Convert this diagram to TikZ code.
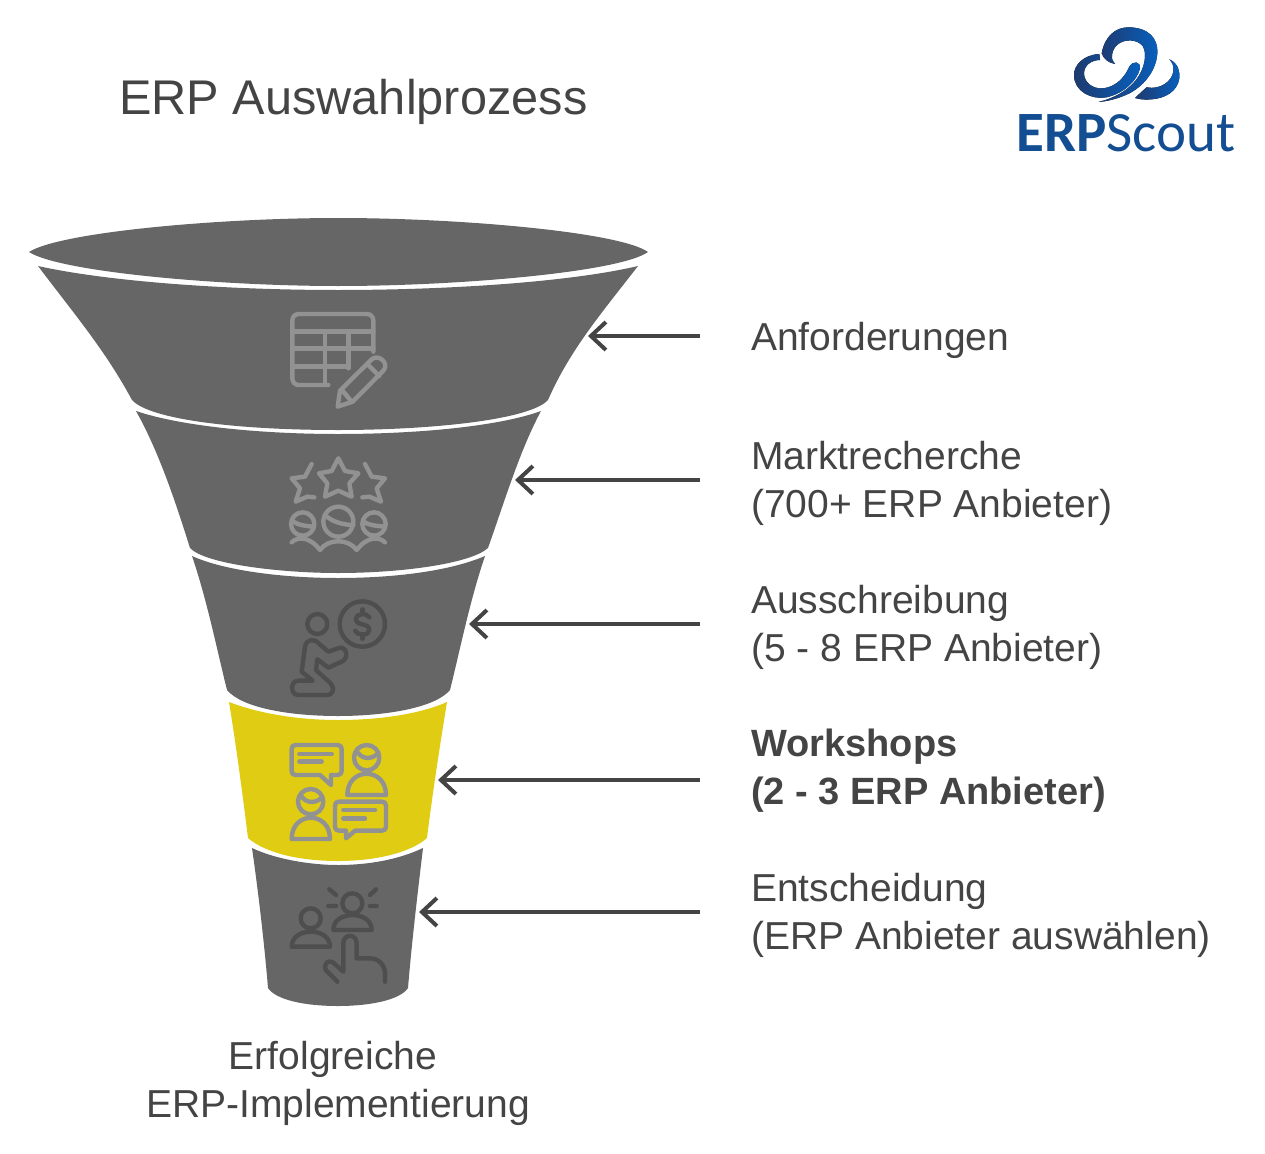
\documentclass[tikz,border=0pt]{standalone}
\usepackage{fontspec}
\setmainfont{Liberation Sans}
\newfontfamily\logofont{Carlito}
\usetikzlibrary{arrows.meta}
\definecolor{funnelgray}{RGB}{102,102,102}
\definecolor{funnelyellow}{RGB}{224,204,18}
\definecolor{textgray}{RGB}{68,68,68}
\definecolor{iconlight}{RGB}{146,146,146}
\definecolor{icondark}{RGB}{78,78,78}
\definecolor{logodark}{RGB}{30,58,110}
\definecolor{logoblue}{RGB}{8,96,190}
\definecolor{logotext}{RGB}{20,78,146}
\tikzset{
    seg/.style={fill=funnelgray,draw=none},
    lbl/.style={anchor=west,inner sep=0pt,align=left,text=textgray,font=\fontsize{39}{48}\selectfont},
    arrowline/.style={draw=textgray,line width=4pt,shorten <=51pt,-{Straight Barb[length=15pt,width=28pt,line width=4pt]}},
    iconline/.style={line width=4.4pt,line cap=round,line join=round},
    logopart/.style={left color=logodark,right color=logoblue,draw=none}
}

\begin{document}
\begin{tikzpicture}[x=1pt,y=-1pt]
    \useasboundingbox (0,0) rectangle (1265,1153);
    % funnel
    \fill[seg] (29,252) .. controls (60,232) and (220,218) .. (338,218) .. controls (460,218) and (620,232) .. (648,252) .. controls (620,272) and (460,286) .. (338,286) .. controls (220,286) and (60,272) .. cycle;
    \fill[seg] (38,266) .. controls (110,282) and (230,290) .. (338,290) .. controls (450,290) and (570,282) .. (638,266) .. controls (600,315) and (570,350) .. (548,400) .. controls (530,420) and (430,430) .. (338,430) .. controls (240,430) and (150,420) .. (132,400) .. controls (105,350) and (75,315) .. cycle;
    \fill[seg] (136,411) .. controls (180,426) and (260,434) .. (338,434) .. controls (420,434) and (500,426) .. (541,411) .. controls (520,450) and (505,500) .. (488,548) .. controls (470,564) and (400,573) .. (338,573) .. controls (280,573) and (205,564) .. (190,548) .. controls (175,500) and (158,450) .. cycle;
    \fill[seg] (192,556) .. controls (225,571) and (285,578) .. (338,578) .. controls (395,578) and (450,571) .. (485,556) .. controls (470,600) and (460,650) .. (450,690) .. controls (435,708) and (385,716) .. (338,716) .. controls (290,716) and (242,708) .. (227,690) .. controls (217,650) and (207,600) .. cycle;
    \fill[funnelyellow] (229,702) .. controls (260,714) and (300,720) .. (338,720) .. controls (380,720) and (420,714) .. (447,702) .. controls (440,745) and (433,790) .. (427,838) .. controls (410,853) and (375,861) .. (338,861) .. controls (300,861) and (265,853) .. (248,838) .. controls (242,790) and (236,745) .. cycle;
    \fill[seg] (252,848) .. controls (275,859) and (310,865) .. (338,865) .. controls (370,865) and (400,859) .. (423,848) .. controls (418,890) and (412,940) .. (408,988) .. controls (400,1000) and (370,1006) .. (338,1006) .. controls (305,1006) and (276,1000) .. (268,988) .. controls (264,940) and (258,890) .. cycle;
    % icon table
    \begin{scope}[shift={(260,300)},scale=1/3,iconline,draw=iconlight]
        \draw (340,155) -- (340,62) .. controls (340,50) and (332,42) .. (320,42) -- (117,42) .. controls (105,42) and (97,50) .. (97,62) -- (97,235) .. controls (97,247) and (105,255) .. (117,255) -- (205,255);
        \draw (97,95) -- (340,95) (97,145) -- (340,145) (97,200) -- (265,200);
        \draw (195,95) -- (195,255) (265,95) -- (265,205);
        \draw (240,272) -- (335,178) .. controls (355,160) and (390,190) .. (370,212) -- (278,305) -- (233,320) -- cycle;
        \draw (322,192) -- (358,228) (246,270) -- (275,305);
    \end{scope}
    % icon stars
    \begin{scope}[shift={(260,300)},scale=1/3,iconline,draw=iconlight]
        \draw (235,475) -- (255,513) -- (295,520) -- (268,550) -- (275,590) -- (235,572) -- (195,590) -- (202,550) -- (177,520) -- (215,513) -- cycle;
        \draw (155,492) -- (135,530) -- (95,535) -- (120,565) -- (107,605) -- (142,590) -- (163,592);
        \draw (315,492) -- (335,530) -- (375,535) -- (350,565) -- (363,605) -- (328,590) -- (307,592);
        \draw (128,672) circle (35) (235,665) circle (45) (342,672) circle (35);
        \draw (100,665) .. controls (115,675) and (135,678) .. (160,680);
        \draw (195,645) .. controls (215,665) and (250,675) .. (280,675);
        \draw (310,665) .. controls (325,675) and (350,678) .. (375,680);
        \draw (95,727) .. controls (110,712) and (145,705) .. (180,750) .. controls (205,715) and (265,715) .. (290,750) .. controls (325,705) and (360,712) .. (375,727);
    \end{scope}
    % icon coin
    \begin{scope}[shift={(260,590)},scale=1/3,iconline,draw=icondark]
        \draw (307,102) circle (68) (172,102) circle (30);
        \draw (328,82) .. controls (322,68) and (288,68) .. (288,88) .. controls (288,108) and (328,98) .. (328,120) .. controls (328,138) and (292,138) .. (286,122);
        \draw (307,58) -- (307,70) (307,134) -- (307,146);
        \draw (135,170) .. controls (140,145) and (165,145) .. (178,162) -- (205,185) -- (240,173) .. controls (260,170) and (268,205) .. (245,215) -- (205,233) -- (172,208) -- (168,240) -- (212,280) .. controls (225,295) and (220,315) .. (200,315) -- (115,315) .. controls (90,315) and (90,272) .. (115,272) -- (158,272) -- (125,245) -- cycle;
    \end{scope}
    % icon workshops
    \begin{scope}[shift={(260,590)},scale=1/3,iconline,draw=iconlight]
        \draw (107,465) -- (233,465) .. controls (241,465) and (245,469) .. (245,477) -- (245,543) .. controls (245,551) and (241,555) .. (233,555) -- (213,555) -- (213,585) -- (180,555) -- (107,555) .. controls (99,555) and (95,551) .. (95,543) -- (95,477) .. controls (95,469) and (99,465) .. (107,465) -- cycle;
        \draw (118,492) -- (215,492) (118,515) -- (185,515);
        \draw (320,503) circle (38) (152,635) circle (38);
        \draw (290,482) .. controls (300,505) and (330,512) .. (352,492);
        \draw (122,614) .. controls (132,637) and (162,644) .. (184,624);
        \draw (262,615) .. controls (262,530) and (378,530) .. (378,615) -- cycle;
        \draw (95,747) .. controls (95,662) and (210,662) .. (210,747) -- cycle;
        \draw (237,635) -- (366,635) .. controls (374,635) and (378,639) .. (378,647) -- (378,710) .. controls (378,718) and (374,722) .. (366,722) -- (285,722) -- (258,745) -- (258,722) -- (237,722) .. controls (229,722) and (225,718) .. (225,710) -- (225,647) .. controls (225,639) and (229,635) .. (237,635) -- cycle;
        \draw (250,660) -- (345,660) (250,685) -- (315,685);
    \end{scope}
    % icon decision
    \begin{scope}[shift={(260,590)},scale=1/3,iconline,draw=icondark]
        \draw (152,985) circle (30) (277,940) circle (30);
        \draw (95,1070) .. controls (95,1010) and (210,1010) .. (210,1070) -- cycle;
        \draw (220,1020) .. controls (220,960) and (335,960) .. (335,1020) -- cycle;
        \draw (208,898) -- (228,915) (330,915) -- (348,898) (205,948) -- (228,948) (330,948) -- (350,948);
        \draw (232,1175) -- (197,1140) .. controls (190,1120) and (205,1108) .. (220,1118) -- (250,1145) -- (250,1060) .. controls (250,1030) and (290,1030) .. (290,1060) -- (290,1105) -- (330,1105) .. controls (355,1105) and (375,1125) .. (375,1150) -- (375,1175);
    \end{scope}
    % logo
    \begin{scope}[shift={(1000,10)},scale=1/3]
        \fill[logopart] (305,130) .. controls (315,75) and (350,52) .. (385,52) .. controls (445,52) and (475,85) .. (472,130) .. controls (468,190) and (420,240) .. (370,258) .. controls (345,268) and (320,274) .. (295,276) .. controls (340,265) and (380,245) .. (408,210) .. controls (435,175) and (442,130) .. (428,108) .. controls (412,88) and (375,85) .. (352,104) .. controls (334,120) and (330,150) .. (345,162) .. controls (325,158) and (312,148) .. cycle;
        \fill[logopart] (298,132) .. controls (250,135) and (222,165) .. (222,195) .. controls (222,245) and (275,270) .. (320,262) .. controls (370,250) and (410,215) .. (420,175) .. controls (422,155) and (400,150) .. (388,170) .. controls (375,200) and (350,230) .. (310,235) .. controls (275,238) and (252,215) .. (252,190) .. controls (252,168) and (272,150) .. (300,150) -- cycle;
        \fill[logopart] (508,148) .. controls (535,160) and (540,185) .. (538,205) .. controls (532,245) and (495,265) .. (455,268) .. controls (435,270) and (418,268) .. (405,264) .. controls (420,250) and (430,240) .. (440,232) .. controls (480,240) and (515,215) .. (520,185) .. controls (522,170) and (518,158) .. cycle;
    \end{scope}
    \node[anchor=base west,inner sep=0pt,text=logotext,font=\logofont\fontsize{57}{57}\selectfont] (logotxt) at (1016,151) {\textbf{ERP}Scout};
    % texts
    \node[lbl,font=\fontsize{48.7}{58}\selectfont] (title) at (119,102) {ERP Auswahlprozess};
    \node[lbl] (lblanf) at (751,340) {Anforderungen};
    \node[lbl] (lblmarkt) at (751,483) {Marktrecherche\\(700+ ERP Anbieter)};
    \node[lbl] (lblaus) at (751,627) {Ausschreibung\\(5 - 8 ERP Anbieter)};
    \node[lbl,font=\fontsize{38}{48}\selectfont] (lblwork) at (751,771) {\textbf{Workshops}\\\textbf{(2 - 3 ERP Anbieter)}};
    \node[lbl] (lblent) at (751,915) {Entscheidung\\(ERP Anbieter auswählen)};
    \node[lbl,anchor=center,align=center] (lblerfolg) at (338,1083) {Erfolgreiche\kern10pt\\ERP-Implementierung};
    % arrows
    \coordinate (tipanf) at (588,336);
    \coordinate (tipmarkt) at (515,480);
    \coordinate (tipaus) at (469,624);
    \coordinate (tipwork) at (438,780);
    \coordinate (tipent) at (419,912);
    \draw[arrowline] (lblanf.west |- tipanf) -- (tipanf);
    \draw[arrowline] (lblmarkt.west |- tipmarkt) -- (tipmarkt);
    \draw[arrowline] (lblaus.west |- tipaus) -- (tipaus);
    \draw[arrowline] (lblwork.west |- tipwork) -- (tipwork);
    \draw[arrowline] (lblent.west |- tipent) -- (tipent);
\end{tikzpicture}
\end{document}
